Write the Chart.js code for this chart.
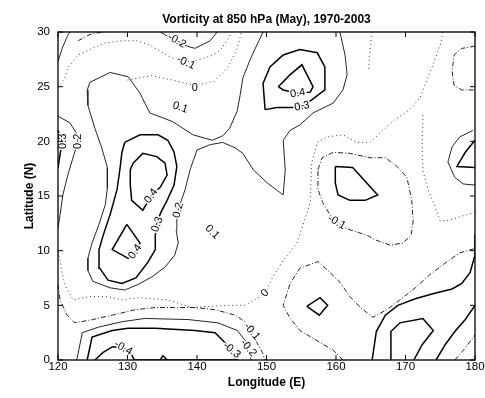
<!DOCTYPE html>
<html>
<head>
<meta charset="utf-8">
<script src="https://cdn.jsdelivr.net/npm/chart.js@4.4.1/dist/chart.umd.min.js"></script>
<style>
  body { margin: 0; background: #fff; }
</style>
</head>
<body>
<canvas id="chart" width="485" height="398"></canvas>
<script>
// axis ticks
var lonTicks = [120, 130, 140, 150, 160, 170, 180];
var latTicks = [0, 5, 10, 15, 20, 25, 30];

// contour lines as [longitude, latitude] pairs
// thin solid
var edgeTopLeft = [[120,27.3],[120.6,28.5],[121.4,29.7],[121.7,30]];
var pos02Main = [[149.5,30],[148.6,28.8],[147.6,27.4],[146.6,25.8],[146.2,24.2],[145.8,22.8],[144.7,21.2],[143.7,20.5],[142.2,20.1],[139.4,20.6],[136.5,21.8],[133.2,22.6],[131.8,24.4],[130.1,25.9],[127.5,26.3],[124.6,25.4],[124.2,24.7],[124.3,23.3],[125.3,21.2],[126.3,19.4],[127.1,17.6],[127.1,15.7],[126.8,14.2],[125.9,12.4],[124.9,10.7],[124.3,9.3],[124.3,8.2],[125,7.2],[127.5,6.6],[129.6,6.4],[131.5,6.9],[133.5,7.6],[135.4,8.5],[136.8,9.6],[137.3,10.7],[137,11.9],[137.1,13.1],[137.3,13.7],[137.7,14.5],[138.3,15.6],[139,17.4],[140,19.2],[141.9,19.7],[143.7,19.9],[145.5,19.4],[146.6,18.9],[148.1,17.4],[150.1,16.2],[152.4,15.1],[152.7,17.4],[152.4,20.1],[153.4,21],[154.8,21.5],[156.7,22.6],[159.6,23.5],[161,24.7],[161.6,26.1],[161.3,27.9],[160.6,29.9],[160.4,30]];
var pos02West = [[120,22.3],[121.7,21.7],[122.6,20.8],[122.9,19.9],[122.3,18.8],[121.4,16.9],[120.7,15.1],[120.3,13.3],[120,12.1]];
var pos02East = [[179.7,21.0],[177.8,20.4],[176.7,19.5],[176.1,18.1],[177.1,16.7],[178.3,16.1],[180,16.0]];
var neg02North = [[134.7,30],[135.8,29.6],[137.1,29.2],[138.6,28.7],[139.7,28.5],[141.9,29.2],[142.9,30]];
var neg02South = [[122.7,0],[123.5,2.5],[125.8,3.0],[129.2,3.5],[132.5,3.8],[138.7,3.7],[143,3.4],[145.8,2.7],[146.9,1.8],[147.3,1.1],[147.8,0]];

// thick solid, open
var pos03Edge = [[120,21.0],[120.6,20.0],[120.3,18.8],[120,17.6]];
var pos03East = [[180,20.1],[178.6,19.0],[177.4,17.7],[180,17.6]];
var pos02SE = [[165.2,0],[165.8,2.6],[167.1,4.1],[168.9,5.0],[171.4,5.6],[174.2,6.1],[176.7,6.5],[178.1,7.0],[179.3,8.0],[180,9.6],[180,11.5]];
var pos03SE = [[167.9,0],[167.9,2.6],[169.2,3.4],[172.5,3.8],[174,2.7],[172.4,1.4],[171.2,0]];
var pos02Corner = [[174.4,0],[175.7,1.4],[177.1,2.6],[178.6,3.7],[180,5.0]];
var neg03South = [[124.2,0],[124.9,2.1],[127.8,2.7],[130.1,2.9],[134,2.9],[139.7,2.7],[142.6,2.5],[144,1.6],[145,0.9],[145.6,0]];
var neg04South = [[125.3,0],[126.5,0.7],[127.8,1.2],[129.2,1.2],[130.4,0.7],[131,0],[146,0]];
var neg05South = [[134.7,0],[135.1,0.4],[135.7,0]];

// thick solid, closed
var pos03West = [[129.6,19.9],[131.8,20.6],[134.4,20.6],[135.8,20.1],[136.7,19.0],[137.1,17.7],[136.7,16.0],[135.7,14.6],[134.8,13.5],[134.2,12.5],[134,11.4],[134,10.1],[132.9,8.9],[131.2,7.5],[129.2,7.0],[127.2,7.3],[126,8.4],[125.9,10.1],[126.5,11.4],[127.5,13.3],[128.5,15.6],[128.9,17.4],[129.2,19.0]];
var pos04WestN = [[130.8,18.0],[132.2,18.9],[134.2,18.6],[135.4,18.0],[135.7,16.9],[134.7,15.8],[133.5,15.1],[132.2,13.7],[130.6,14.6],[130.4,16.0],[130.4,17.4]];
var pos04WestS = [[129.9,12.4],[127.8,10.1],[130.1,9.3],[131.4,10.0],[131.8,10.7]];
var pos03Mid = [[149.8,22.9],[149.5,25.3],[150.5,26.8],[152.4,27.9],[154.8,28.4],[157.3,28.1],[158.4,26.8],[158.4,24.7],[156.5,23.8],[155.1,23.2],[153.8,23.1],[151.5,23.1]];
var pos04Mid = [[151.7,25.0],[153.4,26.1],[155.1,27.0],[156.7,25.0],[156.3,24.5],[154.5,24.4],[152.4,24.7]];
var neg02East = [[159.9,17.7],[162.4,17.6],[166,15.1],[164.2,14.6],[162,14.6],[160.3,15.1],[159.9,16.2]];
var pos01Diamond = [[155.8,4.9],[157.7,5.7],[158.8,5.0],[157.6,4.1]];

// dash-dot
var zeroNW = [[122.9,29.2],[124.3,29.7],[125.3,29.9],[126.8,30]];
var neg01NE = [[180,28.7],[178.1,28.5],[177,27.9],[176.7,26.4],[177,25.1],[178.1,24.7],[180,24.7]];
var loopSE = [[161,0],[159.6,0.9],[157.7,1.6],[154.8,2.7],[153.4,3.8],[152.4,5.0],[153.4,7.0],[154.8,8.4],[157.4,9.0],[158.8,8.2],[160.6,7.1],[162,5.8],[163.5,4.8],[165.3,3.9],[167.3,4.6],[169.2,5.5],[171.4,6.6],[173.5,7.8],[176,9.0],[177.8,9.8],[180,10.2]];
var cornerSE = [[177.1,0],[178.6,1.1],[180,2.3]];
var neg01South = [[120,6.9],[120.3,5.5],[121.3,4.1],[122.4,3.4],[125,3.7],[127.8,4.1],[131.1,4.6],[134,4.8],[136.8,4.8],[139.7,4.8],[142.6,4.6],[145.5,4.1],[146.9,3.5],[147.9,2.6],[148.6,1.6],[149.4,0.7],[149.8,0]];
var neg01East = [[157.4,17.4],[158,18.5],[159.6,19.0],[162,18.9],[164.9,18.5],[167.1,18.5],[168.8,17.7],[170.2,16.7],[170.9,14.6],[171.1,12.7],[170.8,11.4],[169.6,10.7],[167.8,10.5],[165.6,11.0],[164.5,11.4],[161.6,12.0],[160.1,12.6],[159.1,13.3],[158.1,14.4],[157.4,15.6]];

// dotted
var neg01North = [[120,24.9],[121,25.8],[121.4,26.7],[122.9,27.9],[124.9,28.5],[126.8,29.0],[129.2,29.2],[131.4,29.2],[133.2,28.8],[135.1,28.1],[136.5,27.6],[138.6,27.3],[140,27.4],[141.9,27.8],[143.3,28.3],[144.3,29.2],[145,29.9]];
var zeroNorth = [[130,25.6],[133.5,26.0],[136.5,25.6],[139.7,25.1],[142.5,25.5],[144.5,26.8],[145.8,28.5],[146.4,30]];
var dotTop = [[165.2,30],[164.9,28.4],[164.7,26.5]];
var zeroLong = [[175.4,30],[175,28.8],[174.2,27.4],[173.2,25.8],[172.1,24.0],[170.6,22.9],[168.5,22.0],[166.6,20.9],[164.9,19.9],[163,19.9],[161,20.6],[158.7,20.4],[157.3,19.9],[156.5,18.0],[156.3,14.4],[154.4,10.7],[152.4,9.1],[150.9,7.6],[149.8,6.1],[148.3,5.5],[146.9,5.0],[144.5,5.0],[141.6,4.9],[139.3,4.8],[135.8,5.5],[131.5,5.7],[129.2,5.5],[127.1,5.8],[124.6,5.8],[122.2,5.5],[121.3,6.4],[120.7,7.6],[120.3,9.1],[120,10.1]];
var dotEast = [[172.5,22.4],[172.4,19.7],[172.5,17.3],[173.2,15.7],[174.5,13.6],[175,12.7],[176.4,12.8],[178.8,13.3],[180,13.5]];

// inline contour labels: text, longitude, latitude, angle
var contourLabels = [
  ['-0.2', 137.1, 29.2, 30], ['-0.1', 138.4, 27.2, 25], ['0', 139.7, 24.9, 0],
  ['0.1', 137.6, 23.1, 20], ['0.4', 154.5, 24.4, -10], ['0.3', 155.1, 23.2, -10],
  ['0.3', 120.7, 20.0, -90], ['0.2', 122.9, 20.0, -90], ['0.4', 133.4, 15.0, -55],
  ['0.3', 134.3, 12.4, -70], ['0.2', 137.3, 13.7, -75], ['0.4', 131.1, 9.9, -55],
  ['0.1', 142.2, 11.7, 45], ['-0.1', 160.1, 12.6, 30], ['0', 149.8, 6.1, -45],
  ['-0.1', 147.9, 2.6, 50], ['-0.2', 147.4, 1.1, 50], ['-0.3', 145.0, 0.9, 40],
  ['-0.4', 129.4, 1.1, 30]
];

var styles = {
  thin:    { borderColor: '#262626', borderWidth: 1,   borderDash: [] },
  thick:   { borderColor: '#000',    borderWidth: 1.5, borderDash: [] },
  dashdot: { borderColor: '#262626', borderWidth: 1,   borderDash: [5, 2, 1, 2] },
  dotted:  { borderColor: '#333',    borderWidth: 1,   borderDash: [1, 3] }
};

var groups = [
  ['thin', false, [edgeTopLeft, pos02Main, pos02West, pos02East, neg02North, neg02South]],
  ['thick', false, [pos03Edge, pos03East, pos02SE, pos03SE, pos02Corner, neg03South, neg04South, neg05South]],
  ['thick', true, [pos03West, pos04WestN, pos04WestS, pos03Mid, pos04Mid, neg02East, pos01Diamond]],
  ['dashdot', false, [zeroNW, neg01NE, loopSE, cornerSE, neg01South]],
  ['dashdot', true, [neg01East]],
  ['dotted', false, [neg01North, zeroNorth, dotTop, zeroLong, dotEast]]
];

var datasets = [];
groups.forEach(function(g){
  g[2].forEach(function(line){
    var pts = g[1] ? line.concat([line[0]]) : line;
    var st = styles[g[0]];
    datasets.push({
      data: pts.map(function(p){ return {x: p[0], y: p[1]}; }),
      showLine: true,
      pointRadius: 0,
      borderColor: st.borderColor,
      borderWidth: st.borderWidth,
      borderDash: st.borderDash,
      tension: 0,
      fill: false
    });
  });
});

var labelPlugin = {
  id: 'contourLabels',
  afterDatasetsDraw: function(chart){
    var ctx = chart.ctx, xs = chart.scales.x, ys = chart.scales.y;
    ctx.save();
    ctx.font = '11px "Liberation Sans", Arial, sans-serif';
    ctx.textAlign = 'center';
    ctx.textBaseline = 'middle';
    [true, false].forEach(function(halo){
      contourLabels.forEach(function(l){
        ctx.save();
        ctx.translate(xs.getPixelForValue(l[1]), ys.getPixelForValue(l[2]));
        ctx.rotate(l[3] * Math.PI / 180);
        if (halo) {
          ctx.strokeStyle = '#fff';
          ctx.lineWidth = 3;
          ctx.strokeText(l[0], 0, 0);
        } else {
          ctx.fillStyle = '#000';
          ctx.fillText(l[0], 0, 0);
        }
        ctx.restore();
      });
    });
    ctx.restore();
  }
};

// matlab style box with inward ticks
var boxPlugin = {
  id: 'box',
  afterDraw: function(chart){
    var ctx = chart.ctx, a = chart.chartArea, xs = chart.scales.x, ys = chart.scales.y;
    ctx.save();
    ctx.strokeStyle = '#000';
    ctx.lineWidth = 1.3;
    ctx.strokeRect(a.left, a.top, a.right - a.left, a.bottom - a.top);
    ctx.lineWidth = 1;
    ctx.beginPath();
    lonTicks.forEach(function(v){
      var x = xs.getPixelForValue(v);
      ctx.moveTo(x, a.bottom); ctx.lineTo(x, a.bottom - 5);
      ctx.moveTo(x, a.top); ctx.lineTo(x, a.top + 5);
    });
    latTicks.forEach(function(v){
      var y = ys.getPixelForValue(v);
      ctx.moveTo(a.left, y); ctx.lineTo(a.left + 5, y);
      ctx.moveTo(a.right, y); ctx.lineTo(a.right - 5, y);
    });
    ctx.stroke();
    ctx.restore();
  }
};

Chart.defaults.font.family = '"Liberation Sans", Arial, sans-serif';
Chart.defaults.color = '#000';

new Chart(document.getElementById('chart'), {
  type: 'scatter',
  data: { datasets: datasets },
  options: {
    responsive: false,
    animation: false,
    events: [],
    layout: { padding: { top: 0, right: 10, bottom: 0, left: 0 } },
    plugins: {
      legend: { display: false },
      tooltip: { enabled: false },
      title: {
        display: true,
        fullSize: false,
        text: 'Vorticity at 850 hPa (May), 1970-2003',
        font: { size: 12, weight: 'bold' },
        color: '#000',
        padding: { top: 12, bottom: 5.6 }
      }
    },
    scales: {
      x: {
        type: 'linear',
        min: 120, max: 180,
        afterBuildTicks: function(s){ s.ticks = lonTicks.map(function(v){ return {value: v}; }); },
        afterFit: function(s){ s.height = 38; },
        grid: { display: false, drawTicks: false },
        border: { display: false },
        ticks: { padding: 0, font: { size: 11.5 }, color: '#000', maxRotation: 0 },
        title: { display: true, text: 'Longitude (E)', font: { size: 12, weight: 'bold' }, color: '#000', padding: { top: 0, bottom: 8 } }
      },
      y: {
        type: 'linear',
        min: 0, max: 30,
        afterBuildTicks: function(s){ s.ticks = latTicks.map(function(v){ return {value: v}; }); },
        afterFit: function(s){ s.width = 58; },
        grid: { display: false, drawTicks: false },
        border: { display: false },
        ticks: { padding: 8, font: { size: 11.5 }, color: '#000' },
        title: { display: true, text: 'Latitude (N)', font: { size: 12, weight: 'bold' }, color: '#000', padding: { top: 22, bottom: 0 } }
      }
    }
  },
  plugins: [labelPlugin, boxPlugin]
});
</script>
</body>
</html>
